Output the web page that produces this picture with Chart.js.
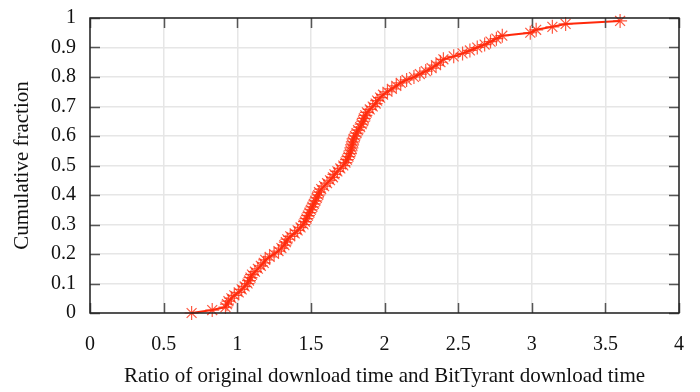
<!DOCTYPE html>
<html>
<head>
<meta charset="utf-8">
<script src="https://cdn.jsdelivr.net/npm/chart.js@4/dist/chart.umd.min.js"></script>
<style>
html,body{margin:0;padding:0;background:#fff;}
#wrap{width:700px;height:392px;}
</style>
</head>
<body>
<div id="wrap"><canvas id="c" width="700" height="392"></canvas></div>
<script>
// Ratio values (x) of each sample, sorted
const ratioValues = [
  0.69, 0.83, 0.92, 0.93, 0.94, 0.96, 0.98, 1.01, 1.03, 1.05,
  1.07, 1.08, 1.09, 1.10, 1.12, 1.14, 1.16, 1.18, 1.19, 1.22,
  1.25, 1.28, 1.30, 1.32, 1.33, 1.34, 1.36, 1.39, 1.41, 1.43,
  1.45, 1.46, 1.47, 1.48, 1.49, 1.50, 1.51, 1.52, 1.53, 1.54,
  1.55, 1.555, 1.57, 1.59, 1.61, 1.63, 1.65, 1.66, 1.68, 1.70,
  1.72, 1.735, 1.745, 1.755, 1.765, 1.77, 1.775, 1.78, 1.785, 1.79,
  1.80, 1.81, 1.82, 1.835, 1.845, 1.855, 1.86, 1.87, 1.88, 1.90,
  1.92, 1.94, 1.95, 1.97, 1.99, 2.02, 2.05, 2.08, 2.11, 2.15,
  2.20, 2.24, 2.28, 2.32, 2.35, 2.38, 2.40, 2.47, 2.53, 2.58,
  2.63, 2.68, 2.72, 2.76, 2.80, 2.99, 3.03, 3.14, 3.23, 3.60
];
// Cumulative fraction (y) of each sample
const cumulativeFraction = [
  0.00, 0.01, 0.02, 0.03, 0.04, 0.05, 0.06, 0.07, 0.08, 0.09,
  0.10, 0.11, 0.12, 0.13, 0.14, 0.15, 0.16, 0.17, 0.18, 0.19,
  0.20, 0.21, 0.22, 0.23, 0.24, 0.25, 0.26, 0.27, 0.28, 0.29,
  0.30, 0.31, 0.32, 0.33, 0.34, 0.35, 0.36, 0.37, 0.38, 0.39,
  0.40, 0.41, 0.42, 0.43, 0.44, 0.45, 0.46, 0.47, 0.48, 0.49,
  0.50, 0.51, 0.52, 0.53, 0.54, 0.55, 0.56, 0.57, 0.58, 0.59,
  0.60, 0.61, 0.62, 0.63, 0.64, 0.65, 0.66, 0.67, 0.68, 0.69,
  0.70, 0.71, 0.72, 0.73, 0.74, 0.75, 0.76, 0.77, 0.78, 0.79,
  0.80, 0.81, 0.82, 0.83, 0.84, 0.85, 0.86, 0.87, 0.88, 0.89,
  0.90, 0.91, 0.92, 0.93, 0.94, 0.95, 0.96, 0.97, 0.98, 0.99
];
const xTickLabels = ['0','0.5','1','1.5','2','2.5','3','3.5','4'];
const yTickLabels = ['0','0.1','0.2','0.3','0.4','0.5','0.6','0.7','0.8','0.9','1'];
const xTitle = 'Ratio of original download time and BitTyrant download time';
const yTitle = 'Cumulative fraction';

const points = ratioValues.map((x, i) => ({x: x, y: cumulativeFraction[i]}));
const FONT = 'Liberation Serif';

const frame = {
  id: 'frame',
  afterDraw(chart) {
    const ctx = chart.ctx, a = chart.chartArea;
    const xs = chart.scales.x, ys = chart.scales.y;
    ctx.save();
    ctx.strokeStyle = '#555';
    ctx.lineWidth = 1.5;
    const L = 10;
    xs.ticks.forEach(t => {
      const px = Math.round(xs.getPixelForValue(t.value)) + 0.5;
      ctx.beginPath();
      ctx.moveTo(px, a.bottom); ctx.lineTo(px, a.bottom - L);
      ctx.moveTo(px, a.top); ctx.lineTo(px, a.top + L);
      ctx.stroke();
    });
    ys.ticks.forEach(t => {
      const py = Math.round(ys.getPixelForValue(t.value)) + 0.5;
      ctx.beginPath();
      ctx.moveTo(a.left, py); ctx.lineTo(a.left + L, py);
      ctx.moveTo(a.right, py); ctx.lineTo(a.right - L, py);
      ctx.stroke();
    });
    ctx.strokeStyle = '#222';
    ctx.lineWidth = 1.5;
    ctx.strokeRect(a.left, a.top, a.right - a.left, a.bottom - a.top);
    ctx.restore();
  }
};

new Chart(document.getElementById('c'), {
  type: 'scatter',
  data: {
    datasets: [{
      data: points,
      showLine: true,
      borderColor: 'rgb(255,40,10)',
      backgroundColor: 'rgb(255,40,10)',
      borderWidth: 2,
      pointStyle: 'star',
      pointRadius: 7,
      pointBorderWidth: 1.2,
      pointBorderColor: 'rgba(255,45,15,0.8)',
      clip: false
    }]
  },
  options: {
    responsive: false,
    animation: false,
    devicePixelRatio: 1,
    layout: {padding: {left: 0, right: 21, top: 18, bottom: 0}},
    plugins: {legend: {display: false}, tooltip: {enabled: false}},
    scales: {
      x: {
        type: 'linear', min: 0, max: 4,
        afterBuildTicks(s) { s.ticks = xTickLabels.map((l, i) => ({value: i * 0.5})); },
        afterFit(s) { s.height = 79; s.paddingLeft = 0; s.paddingRight = 0; },
        ticks: {
          callback: (v, i) => xTickLabels[i],
          font: {family: FONT, size: 20}, color: '#111', padding: 20, maxRotation: 0
        },
        grid: {color: '#e6e6e6', lineWidth: 1.5, drawTicks: false},
        border: {display: false},
        title: {display: true, text: xTitle, font: {family: FONT, size: 21}, color: '#111', padding: {top: 10, bottom: 3}}
      },
      y: {
        type: 'linear', min: 0, max: 1,
        afterBuildTicks(s) { s.ticks = yTickLabels.map((l, i) => ({value: i / 10})); },
        afterFit(s) { s.width = 90; s.paddingTop = 0; s.paddingBottom = 0; },
        ticks: {
          callback: (v, i) => yTickLabels[i],
          font: {family: FONT, size: 20}, color: '#111', padding: 14
        },
        grid: {color: '#e6e6e6', lineWidth: 1.5, drawTicks: false},
        border: {display: false},
        title: {display: true, text: yTitle, font: {family: FONT, size: 21}, color: '#111', padding: {top: 10, bottom: 6}}
      }
    }
  },
  plugins: [frame]
});
</script>
</body>
</html>
